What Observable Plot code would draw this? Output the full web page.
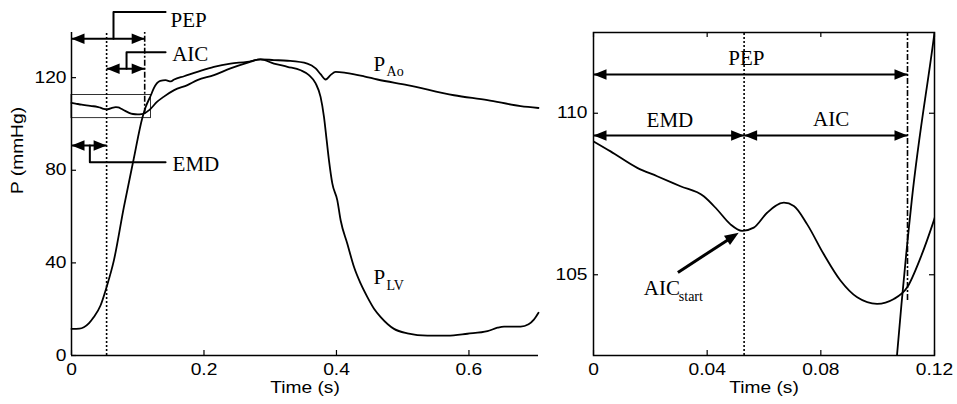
<!DOCTYPE html>
<html><head><meta charset="utf-8">
<script src="https://cdn.jsdelivr.net/npm/d3@7"></script>
<script src="https://cdn.jsdelivr.net/npm/@observablehq/plot@0.6"></script>
<style>
body{margin:0;background:#fff}
#chart{display:flex;width:957px;height:404px;background:#fff}
#chart svg{flex:none;max-width:none!important}
</style>
</head><body><div id="chart"></div>
<script>
// ---- data ----
const pAoTime  = [0, 0.006, 0.0154, 0.0224, 0.0306, 0.0388, 0.0435, 0.0482, 0.0523, 0.0564, 0.0611, 0.067, 0.0705, 0.0752, 0.081, 0.0869, 0.0928, 0.0998, 0.1057, 0.1104, 0.1151, 0.1197, 0.129, 0.139, 0.155, 0.175, 0.19, 0.215, 0.24, 0.265, 0.285, 0.3056, 0.326, 0.356, 0.3686, 0.376, 0.3837, 0.391, 0.3988, 0.414, 0.4416, 0.4618, 0.507, 0.5775, 0.628, 0.678, 0.705];
const pAoValue = [109.13, 108.82, 108.31, 108.05, 107.74, 107.43, 107.02, 106.56, 106.36, 106.46, 106.92, 107.23, 107.13, 106.56, 105.64, 104.82, 104.30, 104.10, 104.25, 104.61, 105.53, 106.66, 109.5, 111.7, 114.6, 116.8, 118.9, 121.1, 124.0, 126.4, 127.9, 127.6, 127.3, 126.1, 124.0, 121.5, 119.2, 121.1, 122.5, 122.1, 120.6, 119.2, 116.8, 112.4, 110.3, 107.7, 106.9];
const pLvTime  = [0, 0.012, 0.0186, 0.0265, 0.0337, 0.0438, 0.0529, 0.064, 0.079, 0.094, 0.1068, 0.112, 0.12, 0.124, 0.134, 0.142, 0.150, 0.155, 0.170, 0.19, 0.215, 0.24, 0.265, 0.2855, 0.3056, 0.326, 0.346, 0.3585, 0.3686, 0.376, 0.3812, 0.3852, 0.3887, 0.3938, 0.4013, 0.4063, 0.4164, 0.4265, 0.4366, 0.4467, 0.4567, 0.4668, 0.4869, 0.507, 0.5373, 0.5675, 0.5977, 0.628, 0.643, 0.653, 0.678, 0.690, 0.698, 0.705];
const pLvValue = [11.5, 11.6, 12.2, 14, 16.6, 21.6, 29.5, 41.1, 64, 85, 102.5, 107.3, 112.5, 115.3, 118.6, 118.9, 118.4, 119.2, 120.6, 122.5, 124.7, 126.1, 126.8, 127.9, 126.1, 124.7, 123.2, 121.1, 117.5, 111.7, 103, 93, 84.3, 74.2, 67, 58.4, 48.3, 38.2, 31, 25.2, 20.2, 16.6, 11.5, 9.6, 8.6, 8.6, 9.4, 10.5, 12, 12.5, 12.5, 13.5, 15.5, 18.5];

const xTicksLeft  = [0, 0.2, 0.4, 0.6];
const yTicksLeft  = [0, 40, 80, 120];
const xTicksRight = [0, 0.04, 0.08, 0.12];
const yTicksRight = [105, 110];

const emdTime = 0.053, pepTime = 0.1105, openPressure = 104.2;
const zoomTime = [0, 0.12], zoomPressure = [102.5, 112.5];

const leftArrowLabel = ["PEP", "AIC", "EMD"];
const leftArrowFrom  = [0, emdTime, 0];
const leftArrowTo    = [pepTime, pepTime, emdTime];
const leftArrowP     = [136.8, 123.8, 90.7];
const leaderTime     = [0.0634, 0.0831, 0.0277];
const leaderTurnP    = [148.3, 131.0, 83.5];
const leaderEndTime  = 0.142;
const leftLabelTime  = [0.1495, 0.152, 0.1526];
const leftLabelP     = [144.6, 130.0, 82.8];

const rightArrowLabel = ["PEP", "EMD", "AIC"];
const rightArrowFrom  = [0, 0, emdTime];
const rightArrowTo    = [pepTime, emdTime, pepTime];
const rightArrowP     = [111.2, 109.31, 109.31];
const rightLabelTime  = [0.0538, 0.0269, 0.0836];
const rightLabelP     = [111.71, 109.78, 109.82];

const curveName = ["P", "P"], curveSub = ["Ao", "LV"];
const curveLabelTime = [0.456, 0.456], curveLabelP = [125.9, 33.8];

const aicStartTail = [0.0297, 105.07], aicStartTip = [0.0511, 106.30];
const aicStartLabel = [0.0177, 104.57];

// ---- layout ----
const W1 = 545, W2 = 412, H = 404, mT = 32, mB = 49;
const mL1 = 71, mR1 = 7, mL2 = 48, mR2 = 23;
const fh = H - mT - mB, fw1 = W1 - mL1 - mR1, fw2 = W2 - mL2 - mR2;
const xDomL = [0, 0.705], yDomL = [0, 139.5];
const SANS = "'Liberation Sans', Arial, Helvetica, sans-serif";
const SERIF = "'Liberation Serif', 'Times New Roman', serif";
const LW = 1.8;

const pAo = pAoTime.map((t, i) => ({t, p: pAoValue[i]}));
const pLv = pLvTime.map((t, i) => ({t, p: pLvValue[i]}));

function head(len, wid) {
  return {draw(ctx) { ctx.moveTo(0, 0); ctx.lineTo(-len, -wid / 2); ctx.lineTo(-len, wid / 2); ctx.closePath(); }};
}
const headSym = head(13, 10.5);

function arrowsOf(from, to, ps) {
  return from.map((f, i) => ({x1: f, x2: to[i], y: ps[i]}));
}
function headsOf(arrows) {
  return arrows.flatMap(a => [{x: a.x1, y: a.y, rot: 180}, {x: a.x2, y: a.y, rot: 0}]);
}

const style = {fontFamily: SANS, fontSize: "16px", color: "black", background: "white", overflow: "visible"};

// ---- left panel ----
const arrowsL = arrowsOf(leftArrowFrom, leftArrowTo, leftArrowP);
const leaders = leaderTime.flatMap((t, i) => [
  {id: i, t, p: leftArrowP[i]}, {id: i, t, p: leaderTurnP[i]}, {id: i, t: leaderEndTime, p: leaderTurnP[i]}
]);
const labelsL = leftArrowLabel.map((s, i) => ({s, t: leftLabelTime[i], p: leftLabelP[i]}));
const curveLabels = curveName.map((s, i) => ({s, sub: curveSub[i], t: curveLabelTime[i], p: curveLabelP[i]}));

const left = Plot.plot({
  width: W1, height: H, marginLeft: mL1, marginRight: mR1, marginTop: mT, marginBottom: mB,
  style,
  x: {domain: xDomL, ticks: xTicksLeft, tickSize: 0, tickPadding: 8, label: null, tickFormat: d => String(d)},
  y: {domain: yDomL, ticks: yTicksLeft, tickSize: 0, tickPadding: 5, label: null, tickFormat: d => String(d)},
  marks: [
    Plot.ruleX([xDomL[0]], {strokeWidth: 1.5}),
    Plot.ruleY([yDomL[0]], {strokeWidth: 1.5}),
    Plot.tickX(xTicksLeft, {x: d => d, insetTop: fh - 5, strokeWidth: 1.2}),
    Plot.tickY(yTicksLeft, {y: d => d, insetRight: fw1 - 5, strokeWidth: 1.2}),
    Plot.rect([{x1: zoomTime[0], x2: zoomTime[1], y1: zoomPressure[0], y2: zoomPressure[1]}],
      {x1: "x1", x2: "x2", y1: "y1", y2: "y2", fill: "none", stroke: "black", strokeWidth: 0.8}),
    Plot.ruleX([emdTime], {y1: yDomL[0], y2: yDomL[1], strokeWidth: 1.6, strokeDasharray: "2,2"}),
    Plot.ruleX([pepTime], {y1: openPressure, y2: yDomL[1], strokeWidth: 1.6, strokeDasharray: "6,2,2,2"}),
    Plot.line(pLv, {x: "t", y: "p", curve: "monotone-x", strokeWidth: LW}),
    Plot.line(pAo, {x: "t", y: "p", curve: "monotone-x", strokeWidth: LW}),
    Plot.link(arrowsL, {x1: "x1", x2: "x2", y1: "y", y2: "y", strokeWidth: 2}),
    Plot.dot(headsOf(arrowsL), {x: "x", y: "y", rotate: "rot", symbol: headSym, fill: "black", stroke: "none"}),
    Plot.line(leaders, {x: "t", y: "p", z: "id", strokeWidth: 2, curve: "linear"}),
    Plot.text(labelsL, {x: "t", y: "p", text: "s", textAnchor: "start", fontFamily: SERIF, fontSize: 21}),
    Plot.text(curveLabels, {x: "t", y: "p", text: "s", textAnchor: "start", fontFamily: SERIF, fontSize: 21}),
    Plot.text(curveLabels, {x: "t", y: "p", text: "sub", textAnchor: "start", dx: 13, dy: 8, fontFamily: SERIF, fontSize: 14}),
    Plot.text(["Time (s)"], {frameAnchor: "bottom", dy: 37, fontSize: 16}),
    Plot.text(["P (mmHg)"], {frameAnchor: "left", dx: -54, rotate: -90, fontSize: 16})
  ]
});

// ---- right panel ----
const kx2 = fw2 / (zoomTime[1] - zoomTime[0]);
const ky2 = fh / (zoomPressure[1] - zoomPressure[0]);
const dxp = (aicStartTip[0] - aicStartTail[0]) * kx2;
const dyp = -(aicStartTip[1] - aicStartTail[1]) * ky2;
const len = Math.hypot(dxp, dyp), ux = dxp / len, uy = dyp / len;
const angle = Math.atan2(dyp, dxp) * 180 / Math.PI;
const shaftEnd = [aicStartTip[0] - 8 * ux / kx2, aicStartTip[1] + 8 * uy / ky2];

const arrowsR = arrowsOf(rightArrowFrom, rightArrowTo, rightArrowP);
const labelsR = rightArrowLabel.map((s, i) => ({s, t: rightLabelTime[i], p: rightLabelP[i]}));

const right = Plot.plot({
  width: W2, height: H, marginLeft: mL2, marginRight: mR2, marginTop: mT, marginBottom: mB,
  style,
  x: {domain: zoomTime, ticks: xTicksRight, tickSize: 0, tickPadding: 8, label: null, tickFormat: d => String(d)},
  y: {domain: zoomPressure, ticks: yTicksRight, tickSize: 0, tickPadding: 6, label: null, tickFormat: d => String(d)},
  marks: [
    Plot.frame({strokeWidth: 1.5}),
    Plot.tickX(xTicksRight, {x: d => d, insetTop: fh - 5, strokeWidth: 1.2}),
    Plot.tickX(xTicksRight, {x: d => d, insetBottom: fh - 5, strokeWidth: 1.2}),
    Plot.tickY(yTicksRight, {y: d => d, insetRight: fw2 - 5, strokeWidth: 1.2}),
    Plot.tickY(yTicksRight, {y: d => d, insetLeft: fw2 - 5, strokeWidth: 1.2}),
    Plot.ruleX([emdTime], {y1: zoomPressure[0], y2: zoomPressure[1], strokeWidth: 1.6, strokeDasharray: "2,2"}),
    Plot.ruleX([pepTime], {y1: openPressure, y2: zoomPressure[1], strokeWidth: 1.6, strokeDasharray: "6,2,2,2"}),
    Plot.line(pLv, {x: "t", y: "p", curve: "monotone-x", strokeWidth: LW, clip: true}),
    Plot.line(pAo, {x: "t", y: "p", curve: "monotone-x", strokeWidth: LW, clip: true}),
    Plot.link(arrowsR, {x1: "x1", x2: "x2", y1: "y", y2: "y", strokeWidth: 2}),
    Plot.dot(headsOf(arrowsR), {x: "x", y: "y", rotate: "rot", symbol: headSym, fill: "black", stroke: "none"}),
    Plot.text(labelsR, {x: "t", y: "p", text: "s", fontFamily: SERIF, fontSize: 21}),
    Plot.link([{x1: aicStartTail[0], y1: aicStartTail[1], x2: shaftEnd[0], y2: shaftEnd[1]}],
      {x1: "x1", y1: "y1", x2: "x2", y2: "y2", strokeWidth: 3}),
    Plot.dot([{x: aicStartTip[0], y: aicStartTip[1]}], {x: "x", y: "y", rotate: angle, symbol: head(14, 11), fill: "black", stroke: "none"}),
    Plot.text([{t: aicStartLabel[0], p: aicStartLabel[1]}], {x: "t", y: "p", text: () => "AIC", textAnchor: "start", fontFamily: SERIF, fontSize: 21}),
    Plot.text([{t: aicStartLabel[0], p: aicStartLabel[1]}], {x: "t", y: "p", text: () => "start", textAnchor: "start", dx: 35, dy: 8, fontFamily: SERIF, fontSize: 14}),
    Plot.text(["Time (s)"], {frameAnchor: "bottom", dy: 37, fontSize: 16})
  ]
});

const chart = document.getElementById("chart");
chart.append(left, right);

// The reference's sans-serif texts are drawn horizontally widened; stretch them about their anchor.
const STRETCH = 1.2;
for (const svg of [left, right]) {
  for (const t of svg.querySelectorAll("text")) {
    if (getComputedStyle(t).fontFamily.includes("Serif")) continue;
    const ax = parseFloat(t.getAttribute("x")) || 0;
    const old = t.getAttribute("transform") || "";
    t.setAttribute("transform", `${old} translate(${ax},0) scale(${STRETCH},1) translate(${-ax},0)`);
  }
}
</script>
</body></html>
